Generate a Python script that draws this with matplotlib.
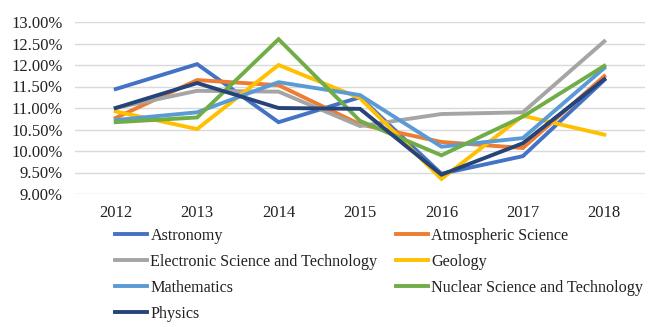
import matplotlib
matplotlib.use("Agg")
import matplotlib.pyplot as plt
from matplotlib.ticker import FuncFormatter

years = ["2012", "2013", "2014", "2015", "2016", "2017", "2018"]
astronomy = [11.44, 12.02, 10.67, 11.25, 9.47, 9.88, 11.65]
atmospheric = [10.77, 11.65, 11.53, 10.62, 10.21, 10.07, 11.74]
electronic = [11.00, 11.40, 11.38, 10.58, 10.86, 10.90, 12.55]
geology = [10.92, 10.51, 12.00, 11.23, 9.35, 10.82, 10.38]
mathematics = [10.72, 10.90, 11.60, 11.30, 10.10, 10.30, 11.93]
nuclear = [10.67, 10.78, 12.60, 10.70, 9.90, 10.80, 11.98]
physics = [11.00, 11.58, 11.00, 10.98, 9.45, 10.18, 11.67]

series = [
    ("Astronomy", astronomy, "#4472C4"),
    ("Atmospheric Science", atmospheric, "#ED7D31"),
    ("Electronic Science and Technology", electronic, "#A5A5A5"),
    ("Geology", geology, "#FFC000"),
    ("Mathematics", mathematics, "#5B9BD5"),
    ("Nuclear Science and Technology", nuclear, "#70AD47"),
    ("Physics", physics, "#264478"),
]

plt.rcParams['font.family'] = ['Liberation Serif', 'DejaVu Serif']

fig = plt.figure(figsize=(6.6, 3.27), dpi=100)
W, H = 660, 327
ax = fig.add_axes([75 / W, 1 - 194 / H, 570 / W, 172 / H])

x = list(range(len(years)))
handles = []
for name, vals, col in series:
    h, = ax.plot(x, vals, color=col, lw=2.8, label=name, solid_joinstyle='miter')
    handles.append(h)

ax.set_xlim(-0.5, len(years) - 0.5)
ax.set_ylim(9.0, 13.0)
ax.set_yticks([9.0 + 0.5 * i for i in range(9)])
ax.yaxis.set_major_formatter(FuncFormatter(lambda v, p: f"{v:.2f}%"))
ax.set_xticks(x)
ax.set_xticklabels(years)
ax.grid(axis='y', color='#D9D9D9', lw=1)
ax.set_axisbelow(True)
for s in ax.spines.values():
    s.set_visible(False)
ax.tick_params(axis='both', length=0, labelsize=12, colors='#222222')
ax.tick_params(axis='y', pad=9)
ax.tick_params(axis='x', pad=8)

common = dict(loc='upper left', frameon=False, fontsize=11.6, handlelength=2.0,
              handletextpad=0.2, labelspacing=0.62, borderpad=0, borderaxespad=0,
              labelcolor='#222222')
col1 = handles[0::2]
col2 = handles[1::2]
fig.legend(handles=col1, bbox_to_anchor=(115 / W, 1 - 228 / H), **common)
fig.legend(handles=col2, bbox_to_anchor=(396 / W, 1 - 228 / H), **common)

fig.savefig("out.png", dpi=100)
